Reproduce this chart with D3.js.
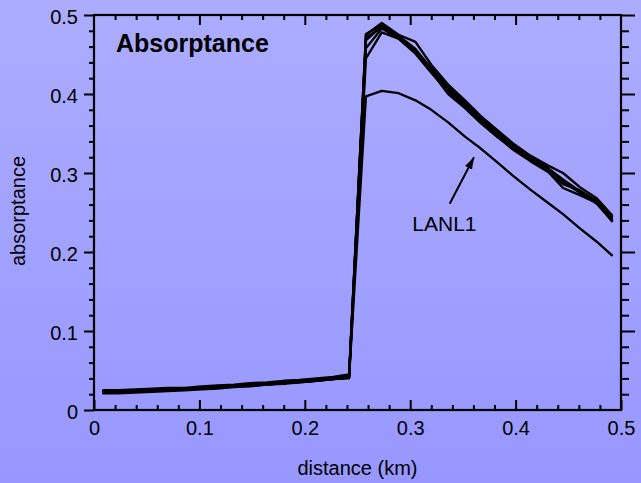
<!DOCTYPE html>
<html>
<head>
<meta charset="utf-8">
<script src="https://cdn.jsdelivr.net/npm/d3@7"></script>
<style>
  html, body { margin: 0; padding: 0; }
  body { width: 641px; height: 483px; overflow: hidden; }
  svg { display: block; font-family: "Liberation Sans", Arial, Helvetica, sans-serif; }
</style>
</head>
<body>
<svg id="chart" width="641" height="483"></svg>
<script>
// Bin centres along the path (km)
const distance = [0.008, 0.023, 0.039, 0.055, 0.070, 0.086, 0.102, 0.117,
                  0.133, 0.148, 0.164, 0.180, 0.195, 0.211, 0.227, 0.242,
                  0.258, 0.273, 0.289, 0.305, 0.320, 0.336, 0.352, 0.367,
                  0.383, 0.398, 0.414, 0.430, 0.445, 0.461, 0.477, 0.492];

// Absorptance profiles, one per model
const run1 = [0.025, 0.025, 0.026, 0.027, 0.028, 0.028, 0.030, 0.031, 0.032, 0.034, 0.035, 0.037, 0.038, 0.040, 0.042, 0.045,
              0.475, 0.490, 0.475, 0.466, 0.437, 0.412, 0.392, 0.372, 0.354, 0.337, 0.322, 0.310, 0.300, 0.282, 0.268, 0.246];
const run2 = [0.021, 0.021, 0.022, 0.023, 0.024, 0.025, 0.026, 0.027, 0.029, 0.030, 0.032, 0.033, 0.035, 0.037, 0.039, 0.040,
              0.445, 0.478, 0.470, 0.452, 0.428, 0.400, 0.382, 0.363, 0.345, 0.330, 0.316, 0.303, 0.281, 0.272, 0.262, 0.238];
const run3 = [0.023, 0.023, 0.024, 0.025, 0.026, 0.027, 0.028, 0.029, 0.030, 0.032, 0.033, 0.035, 0.036, 0.038, 0.040, 0.043,
              0.458, 0.483, 0.471, 0.455, 0.432, 0.408, 0.387, 0.368, 0.350, 0.333, 0.319, 0.306, 0.292, 0.277, 0.263, 0.240];
const run4 = [0.024, 0.023, 0.024, 0.025, 0.026, 0.027, 0.028, 0.029, 0.031, 0.032, 0.033, 0.035, 0.037, 0.039, 0.041, 0.043,
              0.476, 0.487, 0.474, 0.457, 0.431, 0.406, 0.386, 0.367, 0.349, 0.332, 0.318, 0.306, 0.289, 0.275, 0.262, 0.242];
const run5 = [0.023, 0.024, 0.024, 0.025, 0.025, 0.026, 0.028, 0.029, 0.030, 0.031, 0.033, 0.034, 0.036, 0.038, 0.039, 0.041,
              0.472, 0.484, 0.470, 0.451, 0.427, 0.403, 0.383, 0.364, 0.346, 0.329, 0.315, 0.302, 0.286, 0.278, 0.265, 0.244];
const run6 = [0.022, 0.023, 0.023, 0.024, 0.025, 0.026, 0.027, 0.028, 0.030, 0.031, 0.032, 0.034, 0.035, 0.037, 0.039, 0.042,
              0.468, 0.486, 0.473, 0.456, 0.433, 0.409, 0.389, 0.369, 0.351, 0.334, 0.320, 0.307, 0.291, 0.276, 0.261, 0.239];
const lanl1 = [0.023, 0.023, 0.024, 0.024, 0.025, 0.026, 0.027, 0.028, 0.030, 0.031, 0.032, 0.034, 0.036, 0.037, 0.039, 0.041,
               0.397, 0.404, 0.401, 0.392, 0.380, 0.364, 0.346, 0.331, 0.313, 0.296, 0.279, 0.263, 0.248, 0.230, 0.213, 0.195];

const seriesList = [run1, run2, run3, run4, run5, run6, lanl1];

// Axis ticks
const xMajor = [0, 0.1, 0.2, 0.3, 0.4, 0.5];
const xLabels = ["0", "0.1", "0.2", "0.3", "0.4", "0.5"];
const yMajor = [0, 0.1, 0.2, 0.3, 0.4, 0.5];
const yLabels = ["0", "0.1", "0.2", "0.3", "0.4", "0.5"];
const minorStep = 0.02;

// Annotation
const noteText = "LANL1";
const noteAt = [0.302, 0.227];      // label anchor (data units)
const arrowFrom = [0.3375, 0.261];
const arrowTo = [0.3605, 0.320];

const W = 641, H = 483;
const plotLeft = 94, plotRight = 621, plotTop = 15, plotBottom = 410;

const svg = d3.select("#chart");

// Background gradient
const defs = svg.append("defs");
const grad = defs.append("linearGradient")
  .attr("id", "bg").attr("x1", 0).attr("y1", 0).attr("x2", 0).attr("y2", 1);
grad.append("stop").attr("offset", "0%").attr("stop-color", "#acacff");
grad.append("stop").attr("offset", "100%").attr("stop-color", "#9797ff");
defs.append("marker")
  .attr("id", "arrowhead")
  .attr("viewBox", "0 0 12 8")
  .attr("refX", 12).attr("refY", 4)
  .attr("markerWidth", 12).attr("markerHeight", 8)
  .attr("markerUnits", "userSpaceOnUse")
  .attr("orient", "auto")
  .append("path").attr("d", "M0,0 L12,4 L0,8 Z").attr("fill", "#000");

svg.append("rect").attr("width", W).attr("height", H).attr("fill", "url(#bg)");

const x = d3.scaleLinear().domain([0, 0.5]).range([plotLeft, plotRight]);
const y = d3.scaleLinear().domain([0, 0.5]).range([plotBottom, plotTop]);

const minorVals = d3.range(0, 0.5 + 1e-9, minorStep)
  .map(v => +v.toFixed(2))
  .filter(v => !xMajor.some(m => Math.abs(m - v) < 1e-9));

function styleTicks(g) {
  g.select(".domain").remove();
  g.selectAll(".tick line").attr("stroke", "#000").attr("stroke-width", 2);
}

// Bottom axis: inward ticks with labels
svg.append("g").attr("transform", `translate(0,${plotBottom})`)
  .call(d3.axisBottom(x).tickValues(xMajor).tickSizeInner(-10).tickSizeOuter(0)
        .tickPadding(11).tickFormat((d, i) => xLabels[i]))
  .call(styleTicks)
  .call(g => g.selectAll("text").attr("font-size", 20).attr("fill", "#000")
        .attr("font-family", "Liberation Sans, Arial, sans-serif"));
svg.append("g").attr("transform", `translate(0,${plotBottom})`)
  .call(d3.axisBottom(x).tickValues(minorVals).tickSizeInner(-5).tickSizeOuter(0).tickFormat(""))
  .call(styleTicks);

// Top axis: inward ticks
svg.append("g").attr("transform", `translate(0,${plotTop})`)
  .call(d3.axisTop(x).tickValues(xMajor.slice(1, -1)).tickSizeInner(-10).tickSizeOuter(0).tickFormat(""))
  .call(styleTicks);
svg.append("g").attr("transform", `translate(0,${plotTop})`)
  .call(d3.axisTop(x).tickValues(minorVals).tickSizeInner(-5).tickSizeOuter(0).tickFormat(""))
  .call(styleTicks);

// Left axis: outward ticks with labels
svg.append("g").attr("transform", `translate(${plotLeft},0)`)
  .call(d3.axisLeft(y).tickValues(yMajor).tickSize(10).tickPadding(6)
        .tickFormat((d, i) => yLabels[i]))
  .call(styleTicks)
  .call(g => g.selectAll("text").attr("font-size", 20).attr("fill", "#000")
        .attr("dy", "0.42em").attr("font-family", "Liberation Sans, Arial, sans-serif"));
svg.append("g").attr("transform", `translate(${plotLeft},0)`)
  .call(d3.axisLeft(y).tickValues(minorVals).tickSize(5).tickFormat(""))
  .call(styleTicks);

// Right axis: outward ticks
svg.append("g").attr("transform", `translate(${plotRight},0)`)
  .call(d3.axisRight(y).tickValues(yMajor.slice(1)).tickSize(14).tickFormat(""))
  .call(styleTicks);
svg.append("g").attr("transform", `translate(${plotRight},0)`)
  .call(d3.axisRight(y).tickValues(minorVals).tickSize(8).tickFormat(""))
  .call(styleTicks);

// Frame
svg.append("rect")
  .attr("x", plotLeft).attr("y", plotTop)
  .attr("width", plotRight - plotLeft).attr("height", plotBottom - plotTop)
  .attr("fill", "none").attr("stroke", "#000").attr("stroke-width", 2.2);

// Profiles
const line = d3.line()
  .x((d, i) => x(distance[i]))
  .y(d => y(d));

svg.append("g").selectAll("path")
  .data(seriesList)
  .join("path")
  .attr("d", line)
  .attr("fill", "none")
  .attr("stroke", "#000")
  .attr("stroke-width", 2.3)
  .attr("stroke-linejoin", "round");

// Title inside the plot
svg.append("text")
  .attr("x", 116).attr("y", 52)
  .attr("font-size", 25).attr("font-weight", "bold")
  .text("Absorptance");

// Annotation for the lower curve
svg.append("line")
  .attr("x1", x(arrowFrom[0])).attr("y1", y(arrowFrom[1]))
  .attr("x2", x(arrowTo[0])).attr("y2", y(arrowTo[1]))
  .attr("stroke", "#000").attr("stroke-width", 2)
  .attr("marker-end", "url(#arrowhead)");
svg.append("text")
  .attr("x", x(noteAt[0])).attr("y", y(noteAt[1]))
  .attr("font-size", 21)
  .text(noteText);

// Axis titles
svg.append("text")
  .attr("x", (plotLeft + plotRight) / 2).attr("y", 475)
  .attr("text-anchor", "middle").attr("font-size", 20)
  .text("distance (km)");
svg.append("text")
  .attr("transform", "translate(25,211) rotate(-90)")
  .attr("text-anchor", "middle").attr("font-size", 20)
  .text("absorptance");
</script>
</body>
</html>
